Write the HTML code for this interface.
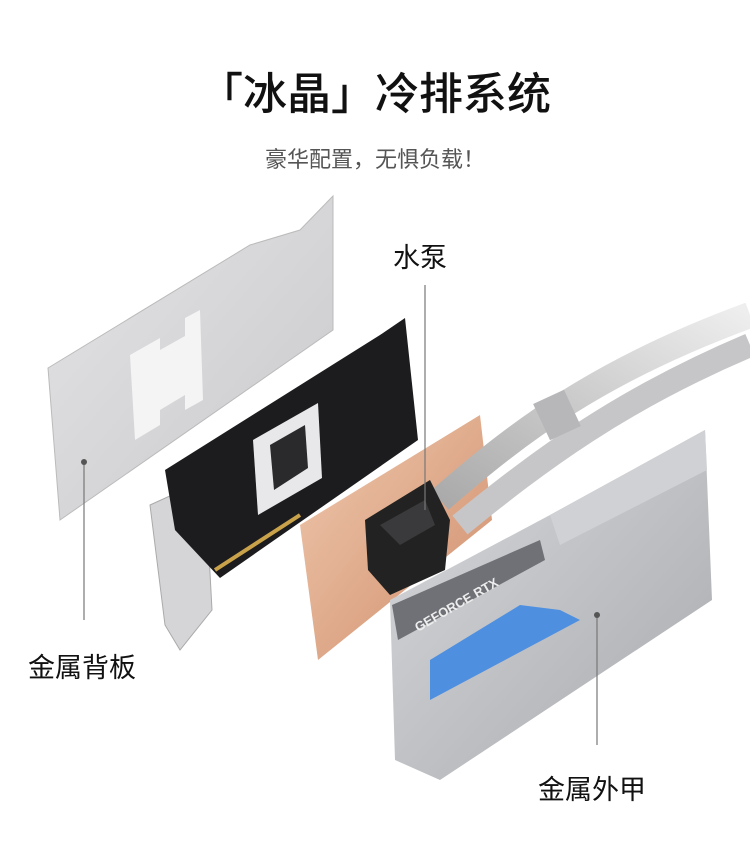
<!DOCTYPE html>
<html><head><meta charset="utf-8"><style>
html,body{margin:0;padding:0;background:#fff;}
body{width:750px;height:859px;position:relative;overflow:hidden;font-family:"Liberation Sans","Noto Sans CJK SC",sans-serif;}
.t{position:absolute;white-space:nowrap;color:#111;}
</style></head><body>
<svg width="750" height="859" style="position:absolute;left:0;top:0">
<defs>
<linearGradient id="bp" x1="0" y1="0" x2="1" y2="1"><stop offset="0" stop-color="#e4e4e6"/><stop offset="1" stop-color="#c9c9cc"/></linearGradient>
<linearGradient id="cu" x1="0" y1="0" x2="1" y2="1"><stop offset="0" stop-color="#f0c8ad"/><stop offset="1" stop-color="#cf8e6c"/></linearGradient>
<linearGradient id="sh" x1="0" y1="0" x2="1" y2="1"><stop offset="0" stop-color="#d8d9dc"/><stop offset="1" stop-color="#a8aaae"/></linearGradient>
<linearGradient id="tb" x1="0" y1="1" x2="1" y2="0"><stop offset="0" stop-color="#aaa"/><stop offset="1" stop-color="#eee"/></linearGradient>
</defs>
<polygon points="48,368 250,245 300,230 333,196 333,330 60,520" fill="url(#bp)" stroke="#bbb"/>
<polygon points="130,355 160,338 160,350 185,336 185,318 200,310 203,400 185,410 185,395 160,410 160,425 135,440" fill="#f4f4f5"/>
<polygon points="150,505 205,480 212,610 180,650 165,625" fill="#d5d5d8" stroke="#aaa"/>
<polygon points="165,470 380,335 405,318 418,440 220,578 175,530" fill="#1c1c1e"/>
<polygon points="253,440 318,403 322,478 258,515" fill="#e8e8ea"/>
<polygon points="270,445 305,425 308,468 274,490" fill="#2a2a2c"/>
<line x1="215" y1="570" x2="300" y2="515" stroke="#c9a24a" stroke-width="4"/>
<polygon points="300,525 480,415 492,520 318,660" fill="url(#cu)"/>
<path d="M440,500 C520,430 600,370 750,315" stroke="url(#tb)" stroke-width="26" fill="none"/>
<path d="M460,525 C540,460 620,400 750,345" stroke="#c6c6c8" stroke-width="24" fill="none"/>
<rect x="540" y="395" width="34" height="40" fill="#b7b7ba" transform="rotate(-25 557 415)"/>
<polygon points="365,520 430,480 450,520 445,570 390,595 368,570" fill="#222"/>
<polygon points="380,525 425,500 435,525 400,545" fill="#3a3a3c"/>
<polygon points="390,600 550,515 705,430 712,600 440,780 395,760" fill="url(#sh)"/>
<polygon points="550,515 705,430 707,470 560,545" fill="#d0d1d4"/>
<polygon points="392,605 540,540 545,560 398,640" fill="#6f7176"/>
<polygon points="430,660 520,605 560,610 580,620 430,700" fill="#4f8fe0"/>
<text x="418" y="632" font-size="13" fill="#eee" font-weight="bold" transform="rotate(-30 418 632)" font-family="Liberation Sans">GEFORCE RTX</text>
<g stroke="#777" stroke-width="1.2">
<line x1="425" y1="285" x2="425" y2="510"/>
<line x1="84" y1="462" x2="84" y2="620"/>
<line x1="597" y1="615" x2="597" y2="745"/>
</g>
<circle cx="84" cy="462" r="3" fill="#555"/>
<circle cx="597" cy="615" r="3" fill="#555"/>
</svg>
<div class="t" style="left:0;width:750px;text-align:center;top:58px;font-size:44px;font-weight:500;">「冰晶」冷排系统</div>
<div class="t" style="left:0;width:750px;text-align:center;top:142px;font-size:22px;color:#555;">豪华配置，无惧负载！</div>
<div class="t" style="left:393px;top:236px;font-size:27px;">水泵</div>
<div class="t" style="left:28px;top:646px;font-size:27px;">金属背板</div>
<div class="t" style="left:538px;top:768px;font-size:27px;">金属外甲</div>
</body></html>
